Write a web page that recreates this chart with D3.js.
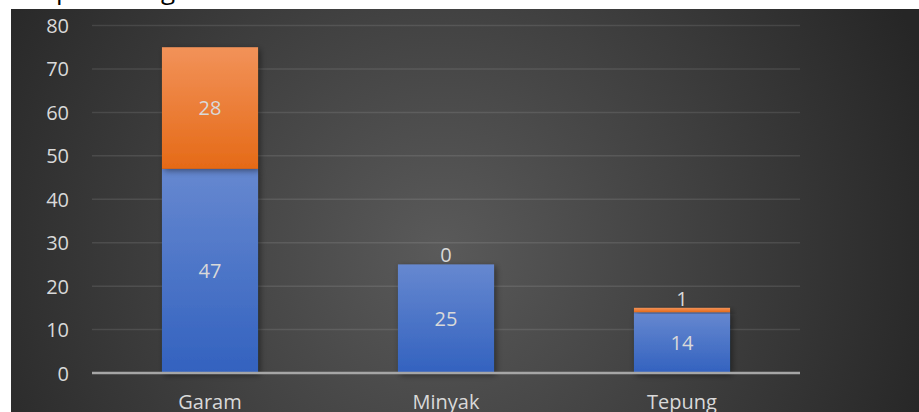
<!DOCTYPE html>
<html><head><meta charset="utf-8">
<script src="https://cdn.jsdelivr.net/npm/d3@7"></script>
<style>html,body{margin:0;padding:0;background:#fff;overflow:hidden}</style>
</head><body>
<svg id="c" width="919" height="412"></svg>
<script>
const categories = ["Garam", "Minyak", "Tepung"];
const seriesNames = ["Seri 1", "Seri 2"];
const series1 = [47, 25, 14];
const series2 = [28, 0, 1];
const yTicks = [0, 10, 20, 30, 40, 50, 60, 70, 80];
const titleText = "pasar bagi UMKM";

const svg = d3.select("#c");
const W = 919, H = 412;
const font = "'Open Sans', 'Noto Sans', sans-serif";
const defs = svg.append("defs");

const bg = defs.append("radialGradient").attr("id","bg").attr("gradientUnits","userSpaceOnUse")
  .attr("cx", 440).attr("cy", 250).attr("r", 520);
bg.append("stop").attr("offset","0%").attr("stop-color","#5a5a5a");
bg.append("stop").attr("offset","100%").attr("stop-color","#262626");

function vgrad(id, top, bot){
  const g = defs.append("linearGradient").attr("id", id).attr("x1",0).attr("y1",0).attr("x2",0).attr("y2",1);
  g.append("stop").attr("offset","0%").attr("stop-color", top);
  g.append("stop").attr("offset","100%").attr("stop-color", bot);
}
vgrad("g0", "#6688d0", "#3362bf");
vgrad("g1", "#f29259", "#e56a17");

const f = defs.append("filter").attr("id","sh").attr("x","-20%").attr("y","-20%").attr("width","150%").attr("height","150%");
f.append("feDropShadow").attr("dx",2).attr("dy",2).attr("stdDeviation",3).attr("flood-color","#000").attr("flood-opacity",0.45);

// title (mostly cut off above the panel)
svg.append("text").attr("x", 56).attr("y", -1).attr("font-family", font).attr("font-size", 26)
  .attr("fill", "#000").text(titleText);

svg.append("rect").attr("x", 11).attr("y", 9).attr("width", W-11).attr("height", H-9).attr("fill","url(#bg)");

const x = d3.scaleBand().domain(categories).range([92, 800]).paddingInner(0.593).paddingOuter(0.2965);
const y = d3.scaleLinear().domain([0, 80]).range([373, 25.5]);

// gridlines
svg.append("g").selectAll("line").data(yTicks.filter(d => d > 0)).join("line")
  .attr("x1", 92).attr("x2", 800).attr("y1", d => y(d)).attr("y2", d => y(d))
  .attr("stroke", "rgba(255,255,255,0.1)").attr("stroke-width", 1.5);

// y axis labels
const yAxis = d3.axisLeft(y).tickValues(yTicks).tickSize(0).tickPadding(0);
const ya = svg.append("g").attr("transform", "translate(69,0)").call(yAxis);
ya.select(".domain").remove();
ya.selectAll("text").attr("font-family", font).attr("font-size", 20).attr("fill", "#d9d9d9").attr("dy", "0.35em");

// stacked data
const rows = categories.map((c, i) => ({cat: c, s0: series1[i], s1: series2[i]}));
const stack = d3.stack().keys(["s0", "s1"])(rows);

const gBars = svg.append("g");
stack.forEach((layer, li) => {
  gBars.append("g").selectAll("rect").data(layer).join("rect")
    .attr("x", d => x(d.data.cat)).attr("width", x.bandwidth())
    .attr("y", d => y(d[1])).attr("height", d => y(d[0]) - y(d[1]))
    .attr("fill", `url(#g${li})`).attr("filter", "url(#sh)");
});

// baseline axis
const xa = svg.append("g").attr("transform", "translate(0,373)")
  .call(d3.axisBottom(x).tickSize(0).tickPadding(0));
xa.select(".domain").remove();
svg.append("line").attr("x1", 92).attr("x2", 800).attr("y1", y(0)).attr("y2", y(0))
  .attr("stroke", "#a6a6a6").attr("stroke-width", 2.5);
xa.selectAll("text").attr("font-family", font).attr("font-size", 20).attr("fill", "#d9d9d9")
  .attr("dy", 0).attr("y", 36);

// data labels
stack.forEach((layer, li) => {
  svg.append("g").selectAll("text").data(layer).join("text")
    .attr("x", d => x(d.data.cat) + x.bandwidth()/2)
    .attr("y", d => {
      const top = y(d[1]), bot = y(d[0]);
      return (bot - top) < 20 ? top - 9 : (top + bot)/2;
    })
    .attr("dy", "0.35em").attr("text-anchor", "middle")
    .attr("font-family", font).attr("font-size", 20).attr("fill", "#d9d9d9")
    .text(d => d[1] - d[0]);
});
</script>
</body></html>
